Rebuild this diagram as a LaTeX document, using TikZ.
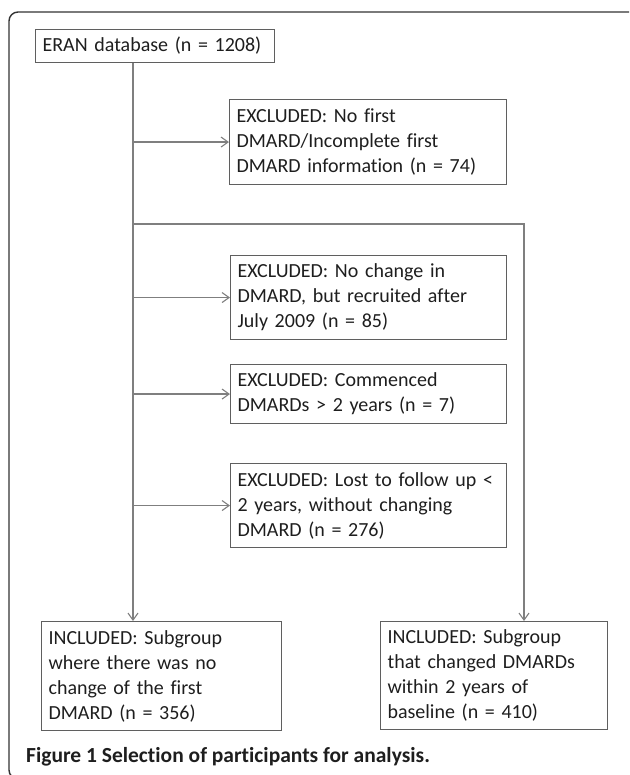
\documentclass[tikz,border=0pt]{standalone}
\usepackage{fontspec}
\setmainfont{Carlito}[Ligatures=NoCommon]
\usetikzlibrary{arrows.meta}

\definecolor{linegray}{HTML}{7F7F7F}
\definecolor{boxgray}{HTML}{5F5F5F}
\definecolor{textgray}{HTML}{1E1E1E}

\begin{document}
\begin{tikzpicture}[
        x=1pt, y=-1pt,
        box/.style={rectangle, draw=boxgray, line width=1.1pt, anchor=north west, align=left, inner xsep=7pt, inner ysep=0pt, text=textgray, font=\fontsize{20}{25}\selectfont},
        flow/.style={draw=linegray, line width=1.4pt},
        arr/.style={flow, -{Straight Barb[length=7pt, width=10pt, line width=1.1pt]}}
    ]
        \useasboundingbox (0,0) rectangle (629,775);

        % Outer frame, cut by the page
        \begin{scope}
            \clip (0,0) rectangle (629,775);
            \draw[line width=1.4pt, draw=black!80, rounded corners=9pt] (9,12) rectangle (700,779);
        \end{scope}

        % Start
        \node[box, text width=225pt, minimum height=33pt] (eran) at (35,29) {ERAN database (n = 1208)};

        % Excluded boxes
        \node[box, text width=263pt, minimum height=85pt] (excl1) at (229,99) {EXCLUDED: No first\\DMARD/Incomplete first\\DMARD information (n = 74)};
        \node[box, text width=262pt, minimum height=84pt] (excl2) at (230,255) {EXCLUDED: No change in\\DMARD, but recruited after\\July 2009 (n = 85)};
        \node[box, text width=262pt, minimum height=59pt] (excl3) at (230,364) {EXCLUDED: Commenced\\DMARDs > 2 years (n = 7)};
        \node[box, text width=262pt, minimum height=84pt] (excl4) at (230,463) {EXCLUDED: Lost to follow up <\\2 years, without changing\\DMARD (n = 276)};

        % Included boxes
        \node[box, text width=226pt, minimum height=109pt] (incl1) at (41,621) {INCLUDED: Subgroup\\where there was no\\change of the first\\DMARD (n = 356)};
        \node[box, text width=213pt, minimum height=108pt] (incl2) at (380,621) {INCLUDED: Subgroup\\that changed DMARDs\\within 2 years of\\baseline (n = 410)};

        % Spine and branch points
        \coordinate (spine) at (133,0);
        \coordinate (branch) at (133,224);
        \coordinate (rspine) at (524,224);

        \draw[arr] (spine |- eran.south) -- (spine |- incl1.north);
        \draw[arr] (spine |- excl1.west) -- (excl1.west);
        \draw[arr] (spine |- excl2.west) -- (excl2.west);
        \draw[arr] (spine |- excl3.west) -- (excl3.west);
        \draw[arr] (spine |- excl4.west) -- (excl4.west);
        \draw[arr] (branch) -- (rspine) -- (rspine |- incl2.north);

        % Caption
        \node[anchor=west, inner sep=0pt, text=textgray, font=\bfseries\fontsize{21.5}{26}\selectfont] (caption) at (26,757) {Figure 1 Selection of participants for analysis.};

    \end{tikzpicture}
\end{document}
